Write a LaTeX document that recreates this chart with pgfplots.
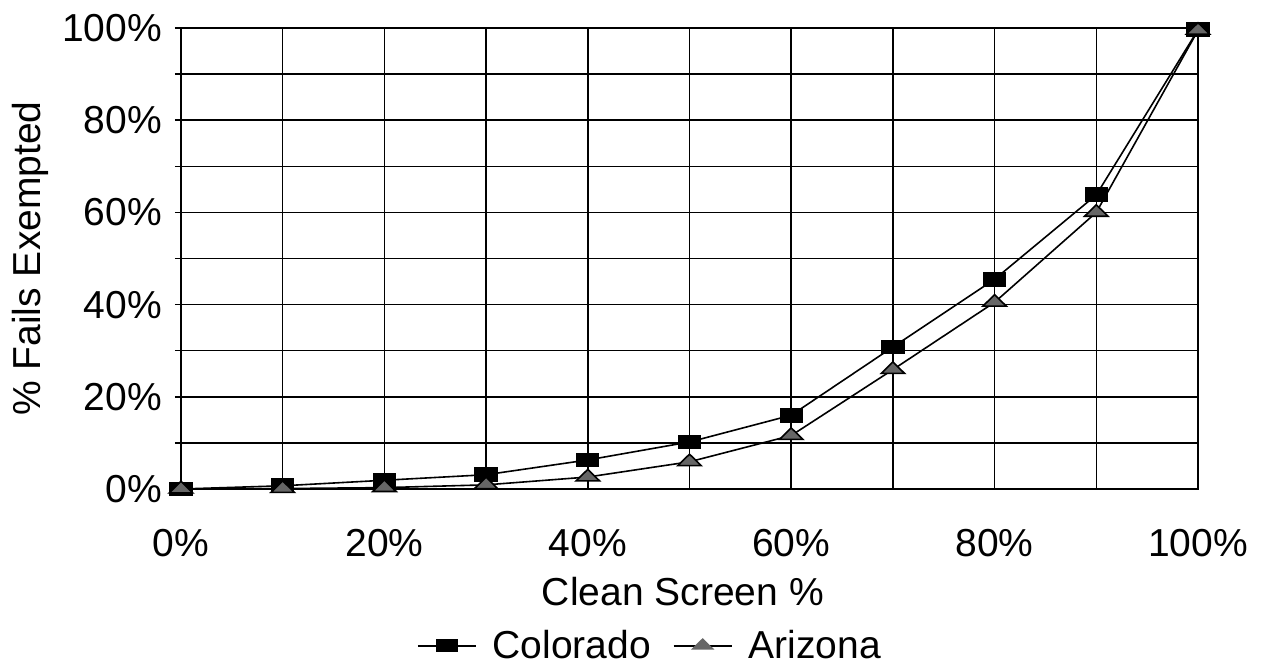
\documentclass[border=0pt]{standalone}
\usepackage{pgfplots}
\pgfplotsset{compat=1.18}
\usepackage{fontspec}
\setmainfont{Liberation Sans}
\begin{document}
\begin{tikzpicture}
\begin{axis}[
  at={(0,0)}, anchor=south west,
  scale only axis, width=508.5pt, height=230.5pt,
  xmin=0, xmax=100, ymin=0, ymax=100,
  xtick={0,20,...,100}, minor xtick={10,30,...,90},
  ytick={0,20,...,100}, minor ytick={10,30,...,90},
  grid=both,
  major grid style={black, line width=0.75pt},
  minor grid style={black, line width=0.75pt},
  axis line style={black, line width=0.8pt},
  xtick style={draw=none},
  ytick style={black, line width=0.75pt},
  tick align=outside, major tick length=3pt, minor tick length=3pt,
  xtick pos=bottom, ytick pos=left,
  /pgf/number format/assume math mode=true,
  xticklabel={\pgfmathprintnumber{\tick}\%},
  yticklabel={\pgfmathprintnumber{\tick}\%},
  tick label style={font=\fontsize{19.5}{23}\selectfont},
  xticklabel style={yshift=-13.5pt},
  yticklabel style={xshift=-3pt},
  xlabel={Clean Screen \%},
  ylabel={\% Fails Exempted},
  label style={font=\fontsize{19.5}{23}\selectfont},
  xlabel style={at={(axis description cs:0.4935,0)}, anchor=north, yshift=-40.5pt},
  ylabel style={at={(axis description cs:0,0.5)}, anchor=north, yshift=88pt},
  legend style={draw=none, fill=none, at={(axis description cs:0.462,-0.34)}, anchor=center,
    font=\fontsize{19.5}{23}\selectfont, legend columns=2,
    /tikz/every odd column/.append style={column sep=6pt},
    /tikz/every even column/.append style={column sep=9pt}},
  legend image code/.code={
    \draw[#1, mark=none] (0pt,0pt) -- (29pt,0pt);
    \draw[#1, draw opacity=0] plot coordinates {(14.5pt,0pt)};
  },
  clip=false,
]
\addplot[black, line width=0.8pt, mark=square*, mark options={fill=black, xscale=1.55, yscale=0.95, solid}, mark size=3.5pt]
  coordinates {(0,0) (10,0.7) (20,1.9) (30,3.1) (40,6.3) (50,10.2) (60,16) (70,30.8) (80,45.5) (90,63.8) (100,99.6)};
\addlegendentry{Colorado}
\addplot[black, line width=0.8pt, mark=triangle*, mark options={fill=black!60, draw=black, xscale=1.5, yscale=0.85, solid}, mark size=4.5pt]
  coordinates {(0,0) (10,0.1) (20,0.3) (30,0.9) (40,2.6) (50,5.9) (60,11.6) (70,25.9) (80,40.5) (90,60) (100,99.5)};
\addlegendentry{Arizona}
\end{axis}
\path[use as bounding box] (-90.5pt,-91pt) rectangle (541pt,244.5pt);
\end{tikzpicture}
\end{document}
